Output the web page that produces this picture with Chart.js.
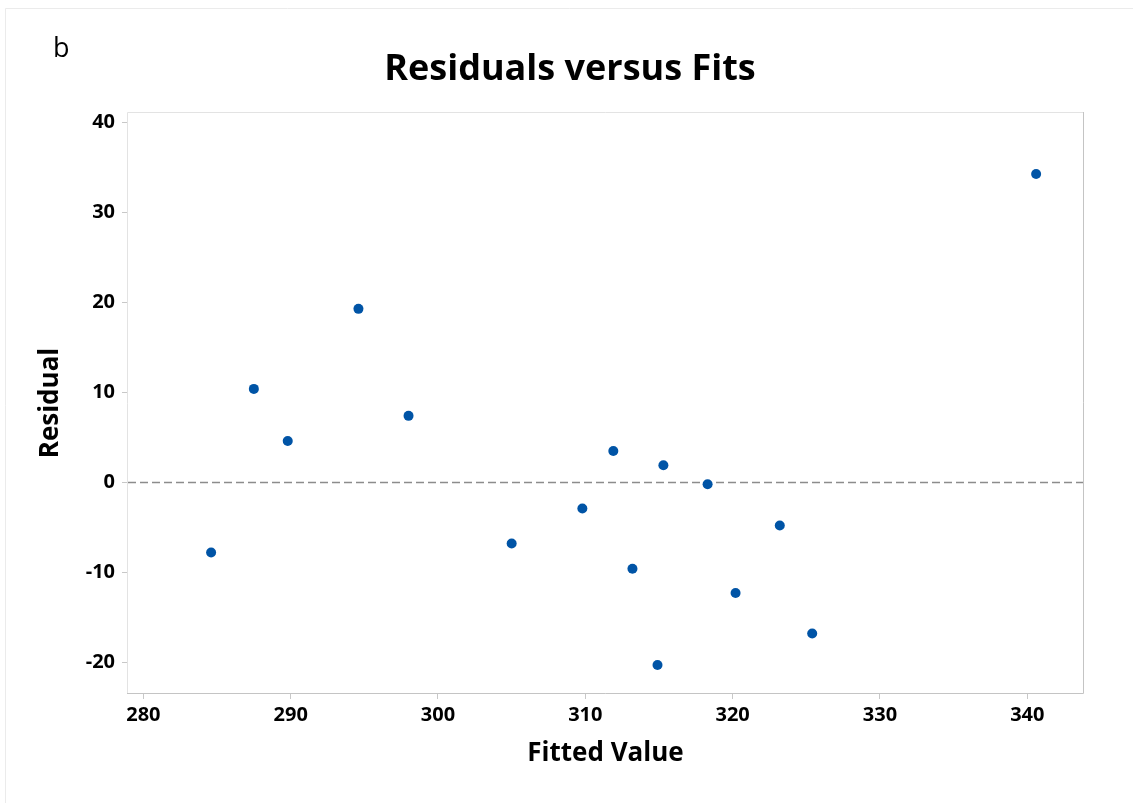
<!DOCTYPE html>
<html>
<head>
<meta charset="utf-8">
<script src="https://cdn.jsdelivr.net/npm/chart.js@4.4.1/dist/chart.umd.min.js"></script>
<style>
  html, body { margin: 0; padding: 0; background: #ffffff; }
  #wrap { position: relative; width: 1133px; height: 803px; }
  canvas { display: block; }
</style>
</head>
<body>
<div id="wrap"><canvas id="c" width="1133" height="803"></canvas></div>
<script>
// ---- data ----
const fittedValues = [284.6, 287.5, 289.8, 294.6, 298.0, 305.0, 309.8, 311.9, 313.2, 314.9, 315.3, 318.3, 320.2, 323.2, 325.4, 340.6];
const residuals    = [-7.8, 10.4, 4.6, 19.3, 7.4, -6.8, -2.9, 3.5, -9.6, -20.3, 1.9, -0.2, -12.3, -4.8, -16.8, 34.3];
const xTicks = [280, 290, 300, 310, 320, 330, 340];
const yTicks = [-20, -10, 0, 10, 20, 30, 40];
const referenceLine = 0;
const chartTitle = 'Residuals versus Fits';
const panelLabel = 'b';
const xTitle = 'Fitted Value';
const yTitle = 'Residual';

const FONT = '"Open Sans", "Noto Sans", sans-serif';

const points = fittedValues.map((x, i) => ({ x: x, y: residuals[i] }));

const decorPlugin = {
  id: 'decor',
  beforeDraw(chart) {
    const { ctx, chartArea: a, scales } = chart;
    ctx.save();
    // outer light frame
    ctx.strokeStyle = '#ebebeb';
    ctx.lineWidth = 1;
    ctx.beginPath();
    ctx.moveTo(5.5, 803);
    ctx.lineTo(5.5, 8.5);
    ctx.lineTo(1133, 8.5);
    ctx.stroke();
    // plot frame: top/left light, right/bottom darker
    ctx.strokeStyle = '#e3e3e3';
    ctx.beginPath();
    ctx.moveTo(a.left + 0.5, a.bottom);
    ctx.lineTo(a.left + 0.5, a.top + 0.5);
    ctx.lineTo(a.right, a.top + 0.5);
    ctx.stroke();
    ctx.strokeStyle = '#c4c4c4';
    ctx.beginPath();
    ctx.moveTo(a.right - 0.5, a.top);
    ctx.lineTo(a.right - 0.5, a.bottom - 0.5);
    ctx.lineTo(a.left, a.bottom - 0.5);
    ctx.stroke();
    // dashed reference line
    const y0 = Math.round(scales.y.getPixelForValue(referenceLine)) + 0.5;
    ctx.strokeStyle = '#8c8c8c';
    ctx.lineWidth = 1.5;
    ctx.setLineDash([8, 4]);
    ctx.beginPath();
    ctx.moveTo(a.left + 1, y0);
    ctx.lineTo(a.right - 1, y0);
    ctx.stroke();
    ctx.setLineDash([]);
    // title and panel label
    ctx.fillStyle = '#000000';
    ctx.textBaseline = 'alphabetic';
    ctx.textAlign = 'center';
    ctx.font = '700 36px ' + FONT;
    ctx.fillText(chartTitle, 570, 80);
    ctx.textAlign = 'left';
    ctx.font = '400 27px ' + FONT;
    ctx.fillText(panelLabel, 53, 57);
    ctx.restore();
  }
};

new Chart(document.getElementById('c'), {
  type: 'scatter',
  data: {
    datasets: [{
      data: points,
      backgroundColor: '#0054a6',
      borderColor: '#0054a6',
      pointRadius: 5,
      pointHoverRadius: 5,
      borderWidth: 0
    }]
  },
  options: {
    responsive: false,
    animation: false,
    events: [],
    layout: { padding: { top: 112, right: 49, left: 0, bottom: 0 } },
    plugins: { legend: { display: false }, tooltip: { enabled: false }, title: { display: false } },
    scales: {
      x: {
        type: 'linear',
        min: 278.89,
        max: 343.85,
        afterFit(scale) { scale.height = 109; },
        afterBuildTicks(scale) { scale.ticks = xTicks.map(v => ({ value: v })); },
        grid: { display: true, drawOnChartArea: false, drawTicks: true, tickLength: 5, color: '#c8c8c8', lineWidth: 1 },
        border: { display: false },
        ticks: {
          color: '#000000',
          padding: 4,
          font: { family: FONT, size: 20, weight: '700' },
          callback: v => String(v)
        },
        title: {
          display: true,
          text: xTitle,
          color: '#000000',
          font: { family: FONT, size: 26, weight: '700' },
          padding: { top: 0, bottom: 34 }
        }
      },
      y: {
        type: 'linear',
        min: -23.53,
        max: 41.19,
        afterFit(scale) { scale.width = 127; },
        afterBuildTicks(scale) { scale.ticks = yTicks.map(v => ({ value: v })); },
        grid: { display: true, drawOnChartArea: false, drawTicks: true, tickLength: 5, color: '#c8c8c8', lineWidth: 1 },
        border: { display: false },
        ticks: {
          color: '#000000',
          padding: 7,
          font: { family: FONT, size: 20, weight: '700' },
          callback: v => String(v)
        },
        title: {
          display: true,
          text: yTitle,
          color: '#000000',
          font: { family: FONT, size: 26, weight: '700' },
          padding: { top: 35, bottom: 0 }
        }
      }
    }
  },
  plugins: [decorPlugin]
});
</script>
</body>
</html>
